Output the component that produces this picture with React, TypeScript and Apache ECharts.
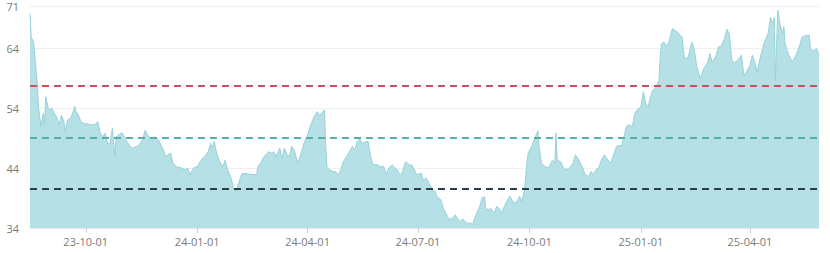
import React, { useEffect, useRef } from "react";
import * as echarts from "echarts";

const dates: string[] = [
  "2023-08-16","2023-08-17","2023-08-19","2023-08-20","2023-08-22","2023-08-23","2023-08-25","2023-08-27","2023-08-28","2023-08-29","2023-08-31",
  "2023-09-02","2023-09-03","2023-09-05","2023-09-07","2023-09-09","2023-09-11","2023-09-13","2023-09-14","2023-09-16","2023-09-19","2023-09-22","2023-09-23","2023-09-25","2023-09-27","2023-09-30",
  "2023-10-04","2023-10-08","2023-10-11","2023-10-13","2023-10-15","2023-10-17","2023-10-19","2023-10-21","2023-10-23","2023-10-25","2023-10-26","2023-10-28","2023-10-31",
  "2023-11-03","2023-11-05","2023-11-08","2023-11-12","2023-11-14","2023-11-17","2023-11-19","2023-11-21","2023-11-24","2023-11-27","2023-11-30",
  "2023-12-04","2023-12-06","2023-12-10","2023-12-12","2023-12-15","2023-12-19","2023-12-22","2023-12-24","2023-12-26","2023-12-29",
  "2024-01-01","2024-01-04","2024-01-07","2024-01-10","2024-01-12","2024-01-13","2024-01-15","2024-01-17","2024-01-19","2024-01-22","2024-01-24","2024-01-26","2024-01-29","2024-01-31",
  "2024-02-02","2024-02-05","2024-02-07","2024-02-12","2024-02-16","2024-02-19","2024-02-20","2024-02-23","2024-02-25","2024-02-29",
  "2024-03-02","2024-03-04","2024-03-06","2024-03-09","2024-03-11","2024-03-13","2024-03-15","2024-03-17","2024-03-19","2024-03-21","2024-03-24","2024-03-27","2024-03-29",
  "2024-04-01","2024-04-04","2024-04-07","2024-04-09","2024-04-11","2024-04-13","2024-04-15","2024-04-16","2024-04-17","2024-04-19","2024-04-22","2024-04-24","2024-04-26","2024-04-28","2024-04-30",
  "2024-05-03","2024-05-05","2024-05-08","2024-05-10","2024-05-12","2024-05-14","2024-05-16","2024-05-19","2024-05-21","2024-05-23","2024-05-25","2024-05-27","2024-05-29","2024-05-31",
  "2024-06-03","2024-06-05","2024-06-07","2024-06-10","2024-06-12","2024-06-14","2024-06-16","2024-06-18","2024-06-21","2024-06-24","2024-06-26","2024-06-28","2024-06-30",
  "2024-07-04","2024-07-05","2024-07-08","2024-07-10","2024-07-13","2024-07-15","2024-07-17","2024-07-20","2024-07-22","2024-07-24","2024-07-27","2024-07-30",
  "2024-08-01","2024-08-03","2024-08-05","2024-08-07","2024-08-09","2024-08-11","2024-08-14","2024-08-15","2024-08-18","2024-08-21","2024-08-23","2024-08-25","2024-08-26","2024-08-28","2024-08-30",
  "2024-09-02","2024-09-04","2024-09-06","2024-09-08","2024-09-11","2024-09-13","2024-09-15","2024-09-17","2024-09-20","2024-09-23","2024-09-25","2024-09-27","2024-09-29","2024-09-30",
  "2024-10-03","2024-10-06","2024-10-08","2024-10-09","2024-10-11","2024-10-14","2024-10-17","2024-10-20","2024-10-22","2024-10-23","2024-10-24","2024-10-27","2024-10-29","2024-10-31",
  "2024-11-03","2024-11-06","2024-11-08","2024-11-11","2024-11-14","2024-11-16","2024-11-19","2024-11-21","2024-11-23","2024-11-25","2024-11-27","2024-11-30",
  "2024-12-02","2024-12-05","2024-12-07","2024-12-09","2024-12-12","2024-12-14","2024-12-16","2024-12-18","2024-12-20","2024-12-22","2024-12-25","2024-12-27","2024-12-29",
  "2025-01-01","2025-01-03","2025-01-05","2025-01-07","2025-01-09","2025-01-11","2025-01-13","2025-01-16","2025-01-17","2025-01-18","2025-01-20","2025-01-22","2025-01-24","2025-01-27","2025-01-31",
  "2025-02-04","2025-02-06","2025-02-09","2025-02-12","2025-02-14","2025-02-16","2025-02-19","2025-02-22","2025-02-25","2025-02-27",
  "2025-03-01","2025-03-04","2025-03-06","2025-03-08","2025-03-11","2025-03-13","2025-03-15","2025-03-17","2025-03-19","2025-03-22","2025-03-25","2025-03-27","2025-03-29",
  "2025-04-01","2025-04-03","2025-04-05","2025-04-07","2025-04-10","2025-04-13","2025-04-16","2025-04-18","2025-04-20","2025-04-21","2025-04-22","2025-04-24","2025-04-26","2025-04-28","2025-04-29","2025-04-30",
  "2025-05-03","2025-05-06","2025-05-09","2025-05-12","2025-05-14","2025-05-17","2025-05-20","2025-05-21","2025-05-24","2025-05-26","2025-05-28",
];

const values: number[] = [
  69.7,65.8,65.0,62.5,58.1,54.2,50.9,53.1,51.2,55.9,54.0,
  53.7,54.0,53.1,52.5,51.2,52.8,51.7,50.0,52.0,52.5,54.3,53.4,52.8,51.7,51.4,
  51.3,51.2,51.7,49.8,49.2,49.8,48.1,48.1,50.6,45.9,49.2,49.5,49.9,
  48.7,48.1,47.3,47.6,47.8,48.7,50.3,49.5,48.9,49.2,48.7,
  47.0,45.9,46.5,44.8,44.2,44.0,43.7,44.0,42.9,44.0,
  44.2,45.3,45.9,46.7,48.1,47.3,48.4,46.5,45.3,44.2,45.3,43.7,42.3,40.6,
  40.1,42.0,43.1,43.0,42.9,42.9,44.2,45.1,45.9,46.7,
  46.5,46.7,45.9,47.3,45.6,47.3,46.2,45.9,47.6,47.0,44.8,46.7,48.1,
  49.5,51.4,52.8,53.4,52.8,53.2,53.7,47.6,44.2,43.7,43.4,43.4,42.9,43.4,44.8,
  45.9,46.5,47.6,47.0,48.4,48.9,48.1,48.4,48.4,45.9,44.5,44.6,44.5,44.2,
  44.2,42.9,44.0,44.5,44.0,43.7,42.9,43.1,45.1,44.5,44.5,43.7,42.9,
  43.1,42.0,42.3,41.5,40.6,40.1,39.2,38.7,37.3,36.5,35.4,35.7,
  36.2,35.4,35.1,35.5,35.1,34.8,34.8,34.5,36.2,37.6,39.0,39.2,37.3,37.0,37.3,
  36.5,37.6,37.3,36.5,37.9,38.7,39.3,38.5,38.1,39.3,38.4,40.4,44.8,46.5,
  47.6,49.2,50.2,47.6,44.8,44.2,44.0,45.3,44.8,49.8,45.3,45.0,44.0,43.7,
  44.0,44.8,46.2,45.3,44.0,42.9,42.6,43.4,42.9,43.7,44.0,45.6,
  46.2,45.3,44.8,45.9,47.6,47.8,47.6,49.2,50.9,51.2,50.9,53.1,53.7,
  54.2,56.7,54.8,54.2,55.9,57.0,57.3,58.6,62.5,64.7,65.0,64.4,64.9,67.2,66.7,
  65.8,62.2,62.4,65.0,63.9,61.1,58.9,60.6,61.5,63.1,
  61.5,62.7,64.2,64.2,65.6,67.1,66.4,62.0,61.5,62.0,62.8,59.5,60.0,
  61.1,62.8,61.7,60.0,62.8,65.0,66.4,69.1,68.1,69.1,58.6,70.3,67.8,66.4,67.6,64.7,
  62.8,61.7,62.8,64.4,65.8,66.1,66.1,63.6,63.6,63.9,62.8,
];

const levelValues: number[] = [57.64, 49.05, 40.48];
const levelColors: string[] = ["#c8525c", "#5aaea6", "#2c3e4c"];

const yMin = 34;
const yMax = 71;
const yInterval = 10;

function pad(n: number) {
  return n < 10 ? "0" + n : "" + n;
}

export default function App() {
  const ref = useRef<HTMLDivElement>(null);
  useEffect(() => {
    document.body.style.margin = "0";
    if (!ref.current) return;
    const chart = echarts.init(ref.current, undefined, { renderer: "svg" });
    const seriesData = dates.map((d, i) => [d, values[i]]);
    chart.setOption({
      animation: false,
      grid: { left: 30, right: 11, top: 6, bottom: 25, containLabel: false },
      xAxis: {
        type: "time",
        min: "dataMin",
        max: "dataMax",
        splitNumber: 7,
        minInterval: 90 * 86400000,
        maxInterval: 92 * 86400000,
        axisLine: { show: true, lineStyle: { color: "#e6e6e6" } },
        axisTick: { show: true, length: 5, lineStyle: { color: "#d0d0d0" } },
        splitLine: { show: false },
        axisLabel: {
          color: "#7a7a7a",
          fontSize: 11,
          fontFamily: "Open Sans, sans-serif",
          margin: 8,
          showMinLabel: false,
          showMaxLabel: false,
          hideOverlap: false,
          formatter: (val: number) => {
            const d = new Date(val);
            const m = d.getMonth() + 1;
            if (d.getDate() !== 1 || (m - 1) % 3 !== 0) return "";
            return pad(d.getFullYear() % 100) + "-" + pad(m) + "-" + pad(d.getDate());
          },
        },
      },
      yAxis: {
        type: "value",
        min: yMin,
        max: yMax,
        interval: yInterval,
        axisLine: { show: false },
        axisTick: { show: false },
        splitLine: { show: true, lineStyle: { color: "#efefef", width: 1 } },
        axisLabel: {
          color: "#7a7a7a",
          fontSize: 11,
          fontFamily: "Open Sans, sans-serif",
          margin: 11,
        },
      },
      series: [
        {
          type: "line",
          data: seriesData,
          showSymbol: false,
          symbol: "none",
          lineStyle: { color: "#98d1d8", width: 1 },
          areaStyle: { color: "#b5e0e5", opacity: 1 },
          markLine: {
            silent: true,
            symbol: "none",
            label: { show: false },
            data: levelValues.map((v, i) => ({
              yAxis: v,
              lineStyle: { color: levelColors[i], type: [7, 5], width: 2 },
            })),
          },
        },
      ],
    });
    return () => chart.dispose();
  }, []);
  return <div ref={ref} style={{ width: 830, height: 253 }} />;
}
